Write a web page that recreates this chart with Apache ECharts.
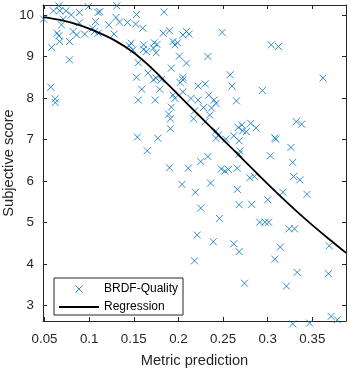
<!DOCTYPE html>
<html>
<head>
<meta charset="utf-8">
<script src="https://cdn.jsdelivr.net/npm/echarts@6/dist/echarts.min.js"></script>
<style>
  html, body { margin: 0; padding: 0; background: #fff; }
  #chart { width: 351px; height: 370px; }
</style>
</head>
<body>
<div id="chart"></div>
<script>
// metric prediction (x) and subjective score (y) for each sample
const metricPred = [
  0.049, 0.058, 0.057, 0.062, 0.062, 0.060, 0.066, 0.067, 0.074, 0.071,
  0.069, 0.064, 0.066, 0.067, 0.080, 0.078, 0.078, 0.082, 0.086, 0.089,
  0.089, 0.095, 0.099, 0.104, 0.106, 0.107, 0.110, 0.112, 0.110, 0.122,
  0.128, 0.131, 0.130, 0.134, 0.143, 0.153, 0.152, 0.160, 0.145, 0.147,
  0.149, 0.155, 0.153, 0.159, 0.155, 0.154, 0.165, 0.161, 0.161, 0.164,
  0.173, 0.176, 0.172, 0.175, 0.184, 0.183, 0.190, 0.205, 0.209, 0.212,
  0.249, 0.194, 0.196, 0.199, 0.201, 0.209, 0.233, 0.192, 0.166, 0.172,
  0.175, 0.181, 0.179, 0.205, 0.205, 0.202, 0.205, 0.222, 0.230, 0.258,
  0.260, 0.174, 0.194, 0.196, 0.214, 0.222, 0.234, 0.240, 0.242, 0.265,
  0.192, 0.304, 0.312, 0.362, 0.294, 0.189, 0.191, 0.191, 0.177, 0.217,
  0.218, 0.228, 0.237, 0.235, 0.230, 0.242, 0.245, 0.242, 0.253, 0.262,
  0.268, 0.267, 0.271, 0.272, 0.276, 0.281, 0.287, 0.269, 0.268, 0.233,
  0.225, 0.190, 0.211, 0.248, 0.252, 0.256, 0.266, 0.204, 0.236, 0.219,
  0.266, 0.268, 0.225, 0.332, 0.338, 0.308, 0.309, 0.326, 0.303, 0.328,
  0.280, 0.285, 0.329, 0.336, 0.317, 0.344, 0.300, 0.282, 0.246, 0.221,
  0.239, 0.262, 0.268, 0.218, 0.274, 0.291, 0.297, 0.301, 0.324, 0.330,
  0.314, 0.308, 0.369, 0.333, 0.368, 0.321, 0.371, 0.378, 0.328, 0.347
]
const subjScore = [
  9.90, 9.22, 8.26, 7.98, 7.89, 10.10, 10.22, 10.10, 10.10, 9.90,
  9.76, 9.56, 9.50, 9.36, 10.00, 9.36, 8.92, 9.60, 9.52, 10.06,
  9.81, 9.54, 10.20, 9.68, 9.60, 9.84, 10.06, 10.08, 9.56, 9.76,
  9.54, 10.22, 9.94, 9.83, 9.82, 10.01, 9.78, 9.68, 9.26, 9.32,
  9.16, 8.85, 8.50, 8.21, 7.95, 7.06, 6.73, 9.28, 9.17, 9.12,
  9.33, 9.29, 9.20, 9.09, 10.07, 9.56, 9.62, 9.52, 9.60, 9.54,
  9.58, 9.36, 9.28, 9.33, 9.01, 8.84, 9.00, 8.72, 8.60, 8.44,
  8.48, 8.44, 8.21, 8.50, 8.44, 8.37, 8.15, 8.29, 8.34, 8.56,
  8.29, 7.95, 8.07, 7.99, 7.99, 7.95, 8.07, 7.95, 7.87, 7.93,
  7.78, 9.28, 9.24, 8.48, 8.18, 7.61, 7.50, 7.26, 7.03, 7.50,
  7.69, 7.77, 7.76, 7.59, 7.43, 7.21, 7.11, 7.03, 7.01, 7.09,
  6.97, 7.29, 7.35, 7.21, 7.19, 7.39, 7.28, 6.73, 6.65, 6.59,
  6.47, 6.32, 6.31, 6.29, 6.24, 6.28, 6.31, 5.92, 5.95, 5.73,
  5.80, 5.43, 5.35, 7.43, 7.37, 7.04, 7.01, 6.81, 6.61, 6.45,
  6.08, 6.11, 6.11, 6.03, 5.73, 5.68, 5.55, 5.44, 5.10, 4.70,
  4.54, 4.49, 4.30, 4.08, 3.54, 5.01, 5.01, 5.01, 4.85, 4.85,
  4.41, 4.12, 4.44, 3.80, 3.77, 3.47, 2.74, 2.66, 2.56, 2.58
]

// fitted regression curve, sampled along x
const regX = [0.0483, 0.07, 0.09, 0.11, 0.13, 0.15, 0.17, 0.19, 0.21,
  0.23, 0.25, 0.27, 0.29, 0.31, 0.33, 0.35, 0.37, 0.3877]
const regY = [9.95, 9.87, 9.75, 9.58, 9.37, 9.09, 8.72, 8.29, 7.86,
  7.43, 7.00, 6.57, 6.14, 5.72, 5.32, 4.94, 4.58, 4.27]

const xTicks = [0.05, 0.1, 0.15, 0.2, 0.25, 0.3, 0.35]
const yTicks = [3, 4, 5, 6, 7, 8, 9, 10]

const axisColor = '#262626'
const font = '"Liberation Sans", Arial, sans-serif'
const xMark = 'path://M0,0L10,10M10,0L0,10'
const lineIcon = 'path://M0,0L40,0L40,2L0,2Z'

const chart = echarts.init(document.getElementById('chart'), null, { renderer: 'canvas' })

const baseX = {
  type: 'value',
  min: 0.0483,
  max: 0.3877,
  splitLine: { show: false },
  axisLine: { onZero: false, lineStyle: { color: axisColor, width: 1 } },
  axisTick: { inside: true, length: 4, customValues: xTicks, lineStyle: { color: axisColor } }
}
const baseY = {
  type: 'value',
  min: 2.63,
  max: 10.24,
  splitLine: { show: false },
  axisLine: { onZero: false, lineStyle: { color: axisColor, width: 1 } },
  axisTick: { inside: true, length: 4, customValues: yTicks, lineStyle: { color: axisColor } }
}

const option = {
  animation: false,
  backgroundColor: '#fff',
  grid: { left: 43, right: 5, top: 5, bottom: 49, containLabel: false, outerBoundsMode: 'none' },
  xAxis: [
    Object.assign({}, baseX, {
      position: 'bottom',
      name: 'Metric prediction',
      nameLocation: 'middle',
      nameGap: 32,
      nameTextStyle: { fontFamily: font, fontSize: 14.67, color: axisColor },
      axisLabel: {
        customValues: xTicks,
        margin: 12,
        fontFamily: font,
        fontSize: 13.33,
        color: axisColor,
        formatter: v => String(+v.toFixed(2))
      }
    }),
    Object.assign({}, baseX, { position: 'top', axisLabel: { show: false } })
  ],
  yAxis: [
    Object.assign({}, baseY, {
      position: 'left',
      name: 'Subjective score',
      nameLocation: 'middle',
      nameGap: 27,
      nameMoveOverlap: false,
      nameTextStyle: { fontFamily: font, fontSize: 14.67, color: axisColor },
      axisLabel: {
        customValues: yTicks,
        margin: 9,
        fontFamily: font,
        fontSize: 13.33,
        color: axisColor
      }
    }),
    Object.assign({}, baseY, { position: 'right', axisLabel: { show: false } })
  ],
  legend: {
    orient: 'vertical',
    left: 54,
    top: 278,
    padding: [4, 5, 1, 5],
    itemGap: 4,
    itemWidth: 40,
    itemHeight: 7,
    backgroundColor: '#fff',
    borderColor: axisColor,
    borderWidth: 1,
    borderRadius: 0,
    textStyle: { fontFamily: font, fontSize: 12, color: '#000', lineHeight: 14 },
    data: [
      { name: 'BRDF-Quality', icon: xMark, itemStyle: { color: 'transparent', borderColor: '#0072BD', borderWidth: 1 } },
      { name: 'Regression', icon: lineIcon, itemStyle: { color: '#000', borderWidth: 0 } }
    ]
  },
  series: [
    {
      name: 'BRDF-Quality',
      type: 'scatter',
      clip: false,
      symbol: xMark,
      symbolSize: 7,
      itemStyle: { color: 'transparent', borderColor: '#0072BD', borderWidth: 1 },
      emphasis: { disabled: true },
      data: metricPred.map((x, i) => [x, subjScore[i]])
    },
    {
      name: 'Regression',
      type: 'line',
      smooth: 0.4,
      symbol: 'none',
      lineStyle: { color: '#000', width: 1.8 },
      emphasis: { disabled: true },
      data: regX.map((x, i) => [x, regY[i]])
    }
  ]
}

chart.setOption(option)
</script>
</body>
</html>
